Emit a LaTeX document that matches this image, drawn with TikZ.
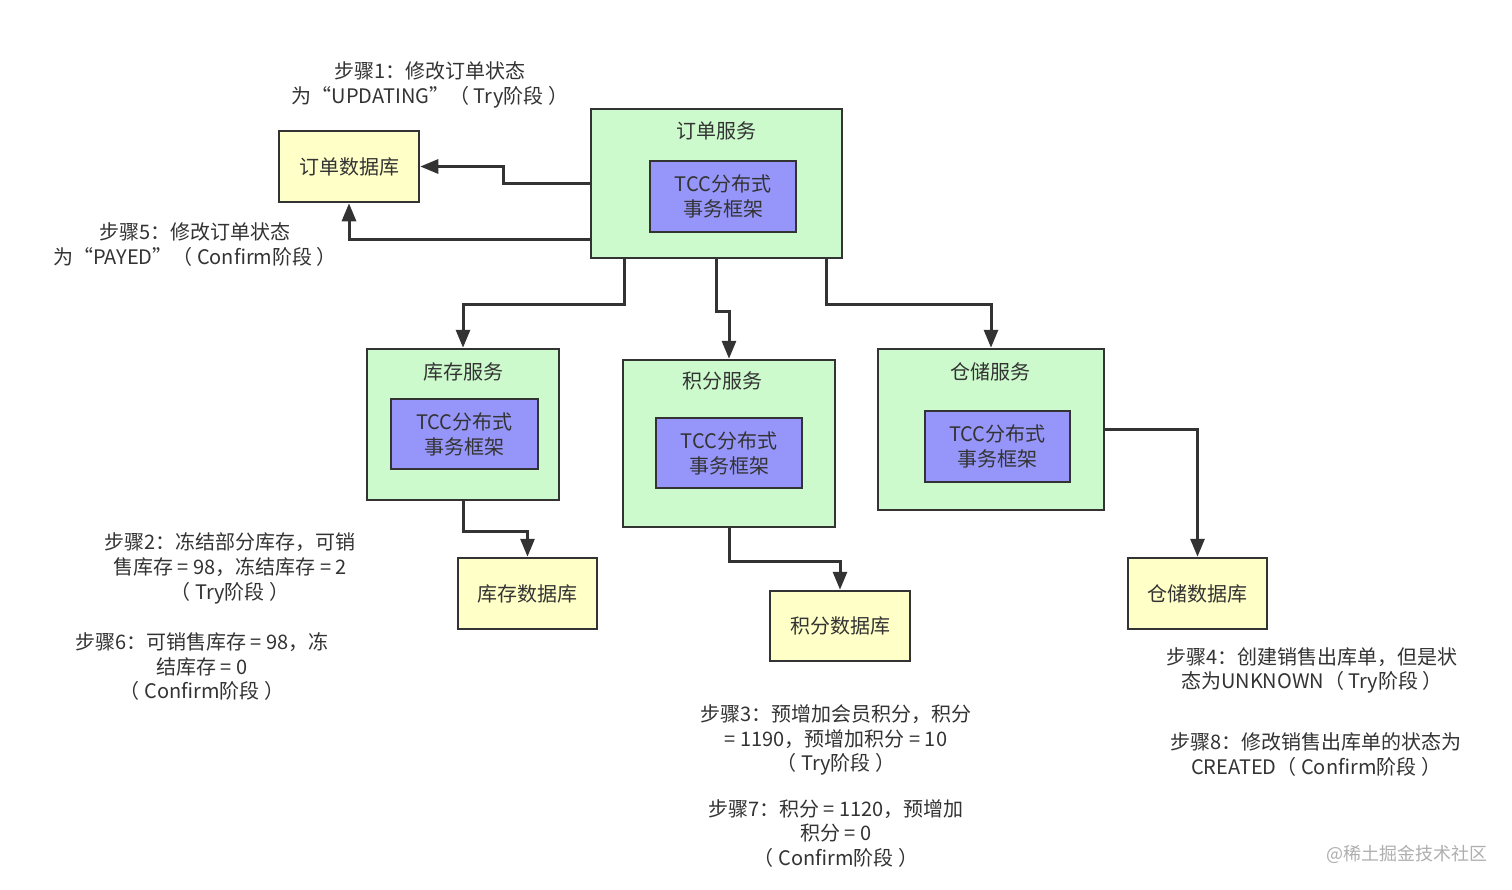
\documentclass[tikz,border=0pt]{standalone}
\usepackage{fontspec}
\setmainfont{Noto Sans CJK SC}
\usetikzlibrary{arrows.meta}
\definecolor{svcgreen}{RGB}{204,250,204}
\definecolor{tccblue}{RGB}{150,150,250}
\definecolor{dbyellow}{RGB}{255,255,200}
\definecolor{ink}{RGB}{51,51,51}
\definecolor{mark}{RGB}{175,175,175}
\tikzset{
  svc/.style={draw=ink, line width=2.5pt, fill=svcgreen, inner sep=0pt},
  tcc/.style={draw=ink, line width=2.5pt, fill=tccblue, inner sep=0pt, align=center, text=ink, font=\fontsize{20}{25}\selectfont},
  db/.style={draw=ink, line width=2.5pt, fill=dbyellow, inner sep=0pt, text=ink, font=\fontsize{20}{25}\selectfont},
  ttl/.style={text=ink, font=\fontsize{20}{25}\selectfont, inner sep=0pt},
  note/.style={text=ink, align=center, font=\fontsize{20}{24.8}\selectfont, inner sep=0pt},
  arr/.style={draw=ink, line width=3pt, -{Triangle[width=14pt,length=18pt]}},
}
\begin{document}
\begin{tikzpicture}[x=1pt,y=-1pt]
\useasboundingbox[fill=white] (0,0) rectangle (1512,889);
% order service
\node[svc, minimum width=251pt, minimum height=149pt] (osvc) at (716.5,183.5) {};
\node[ttl] (osvct) at (716.5,131) {订单服务};
\node[tcc, minimum width=146pt, minimum height=71pt] (otcc) at (723,196.5) {TCC分布式\\事务框架};
\node[db, minimum width=140pt, minimum height=71pt] (odb) at (349,166.5) {订单数据库};
% inventory
\node[svc, minimum width=192pt, minimum height=151pt] (isvc) at (463,424.5) {};
\node[ttl] (isvct) at (463,372) {库存服务};
\node[tcc, minimum width=147pt, minimum height=70pt] (itcc) at (464.5,434) {TCC分布式\\事务框架};
\node[db, minimum width=139pt, minimum height=71pt] (idb) at (527.5,593.5) {库存数据库};
% points
\node[svc, minimum width=212pt, minimum height=167pt] (psvc) at (729,443.5) {};
\node[ttl] (psvct) at (722,381) {积分服务};
\node[tcc, minimum width=146pt, minimum height=70pt] (ptcc) at (729,453) {TCC分布式\\事务框架};
\node[db, minimum width=140pt, minimum height=70pt] (pdb) at (840,626) {积分数据库};
% warehouse
\node[svc, minimum width=226pt, minimum height=161pt] (wsvc) at (991,429.5) {};
\node[ttl] (wsvct) at (990,372) {仓储服务};
\node[tcc, minimum width=145pt, minimum height=71pt] (wtcc) at (997.5,446.5) {TCC分布式\\事务框架};
\node[db, minimum width=139pt, minimum height=71pt] (wdb) at (1197.5,593.5) {仓储数据库};
% connectors
\draw[arr] (osvc.west) -- ++(-86,0) |- (odb.east);
\draw[arr] ([yshift=20pt]osvc.south west) -| (odb.south);
\draw[arr] ([xshift=-92.5pt]osvc.south) -- ++(0,45) -| (isvc.north);
\draw[arr] (osvc.south) -- ++(0,52) -| (psvc.north);
\draw[arr] ([xshift=109.5pt]osvc.south) -- ++(0,45) -| (wsvc.north);
\draw[arr] (isvc.south) -- ++(0,30) -| (idb.north);
\draw[arr] (psvc.south) -- ++(0,33) -| (pdb.north);
\draw[arr] (wsvc.east) -| (wdb.north);
% notes
\node[note] (s1) at (430,84.5) {步骤1：修改订单状态\\为“UPDATING”（ Try阶段 ）};
\node[note] (s5) at (195,244.5) {步骤5：修改订单状态\\为“PAYED”（ Confirm阶段 ）};
\node[note] (s2) at (230,568.5) {步骤2：冻结部分库存，可销\\售库存 = 98，冻结库存 = 2\\（ Try阶段 ）};
\node[note] (s6) at (202,666.5) {步骤6：可销售库存 = 98，冻\\结库存 = 0\\（ Confirm阶段 ）};
\node[note] (s3) at (836,740) {步骤3：预增加会员积分，积分\\= 1190，预增加积分 = 10\\（ Try阶段 ）};
\node[note] (s7) at (836,833.5) {步骤7：积分 = 1120，预增加\\积分 = 0\\（ Confirm阶段 ）};
\node[note] (s4) at (1312,670.5) {步骤4：创建销售出库单，但是状\\态为UNKNOWN（ Try阶段 ）};
\node[note] (s8) at (1316,754.5) {步骤8：修改销售出库单的状态为\\CREATED（ Confirm阶段 ）};
\node[text=mark, font=\fontsize{18}{22}\selectfont, inner sep=0pt, anchor=east] (wm) at (1488,854) {@稀土掘金技术社区};
\end{tikzpicture}
\end{document}
